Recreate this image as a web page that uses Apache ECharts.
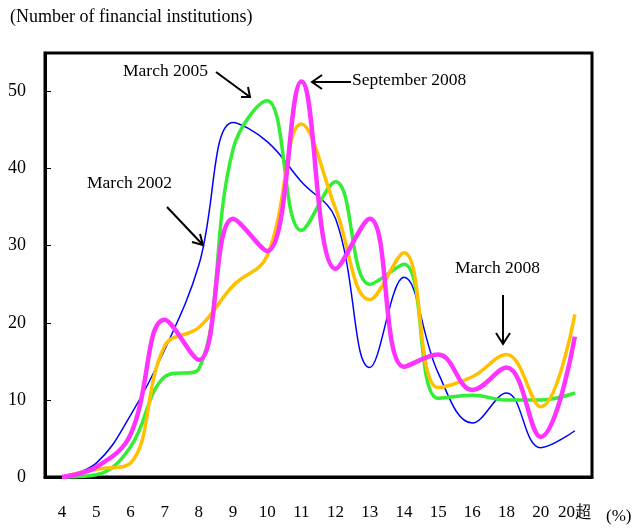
<!DOCTYPE html>
<html>
<head>
<meta charset="utf-8">
<script src="https://cdn.jsdelivr.net/npm/echarts@6/dist/echarts.min.js"></script>
<style>
html, body { margin: 0; padding: 0; background: #fff; }
#chartmain { width: 637px; height: 529px; }
</style>
</head>
<body>
<div id="chartmain"></div>
<script>
var cats = ['4', '5', '6', '7', '8', '9', '10', '11', '12', '13', '14', '15', '16', '18', '20', '20超'];
var yTicks = [0, 10, 20, 30, 40, 50];

var mar2002 = [0, 1.8, 8.0, 16.5, 27.5, 46, 43.5, 38.3, 33.5, 14.2, 25.9, 13.5, 7.0, 10.9, 3.8, 6.0];
var mar2005 = [0, 0.3, 3.9, 13.0, 14.0, 42.5, 48.8, 32.0, 38.3, 25.0, 27.6, 10.2, 10.6, 10.0, 10.0, 10.9];
var mar2008 = [0, 1.0, 1.8, 17.0, 19.4, 24.8, 28.7, 45.8, 34.8, 23.0, 29.1, 11.6, 13.0, 15.9, 9.1, 21.1];
var sep2008 = [0, 1.3, 5.5, 20.4, 15.2, 33.5, 29.3, 51.3, 27.0, 33.5, 14.3, 15.9, 11.3, 14.2, 5.2, 18.2];

var serif = '"Liberation Serif", "Times New Roman", serif';

function arrow(x1, y1, x2, y2, a1, a2) {
	return [
		{ type: 'line', shape: { x1: x1, y1: y1, x2: x2, y2: y2 }, style: { stroke: '#000', lineWidth: 2 } },
		{ type: 'polyline', shape: { points: [a1, [x2, y2], a2] }, style: { stroke: '#000', lineWidth: 2, fill: null } }
	];
}

var graphics = [
	{ type: 'text', left: 10, top: 8, style: { text: '(Number of financial institutions)', font: '18px ' + serif, fill: '#000' } },
	{ type: 'text', left: 606, top: 508, style: { text: '(%)', font: '17px ' + serif, fill: '#000' } },
	{ type: 'text', left: 123, top: 62, style: { text: 'March 2005', font: '17.5px ' + serif, fill: '#000' } },
	{ type: 'text', left: 352, top: 71, style: { text: 'September 2008', font: '17.5px ' + serif, fill: '#000' } },
	{ type: 'text', left: 87, top: 174, style: { text: 'March 2002', font: '17.5px ' + serif, fill: '#000' } },
	{ type: 'text', left: 455, top: 259, style: { text: 'March 2008', font: '17.5px ' + serif, fill: '#000' } }
]
	.concat(arrow(216, 72, 250, 97, [241, 97], [248, 87]))
	.concat(arrow(351, 82, 312, 82, [322, 75], [322, 89]))
	.concat(arrow(167, 207, 203, 245, [192, 242], [200, 234]))
	.concat(arrow(503, 295, 503, 344, [496, 333], [510, 333]));

function line(name, data, color, width) {
	return {
		name: name,
		type: 'line',
		smooth: 0.4,
		symbol: 'none',
		data: data,
		lineStyle: { color: color, width: width },
		itemStyle: { color: color }
	};
}

var option = {
	animation: false,
	backgroundColor: '#fff',
	grid: {
		left: 45, right: 45, top: 53, bottom: 52,
		show: true, borderColor: '#000', borderWidth: 3
	},
	xAxis: {
		type: 'category',
		data: cats,
		boundaryGap: true,
		axisLine: { lineStyle: { color: '#000', width: 3 } },
		axisTick: { inside: true, length: 6, lineStyle: { color: '#000', width: 1 } },
		axisLabel: { color: '#000', fontFamily: serif, fontSize: 17, margin: 27, interval: 0 },
		splitLine: { show: false }
	},
	yAxis: {
		type: 'value',
		min: 0,
		max: 55,
		interval: 10,
		axisLine: { show: true, lineStyle: { color: '#000', width: 3 } },
		axisTick: { show: true, inside: true, length: 6, lineStyle: { color: '#000', width: 1 } },
		axisLabel: {
			color: '#000', fontFamily: serif, fontSize: 18, margin: 19,
			formatter: function(v) { return yTicks.indexOf(v) >= 0 ? String(v) : ''; }
		},
		splitLine: { show: false }
	},
	series: [
		line('March 2002', mar2002, '#0000ff', 1.5),
		line('March 2005', mar2005, '#33ee33', 3.5),
		line('March 2008', mar2008, '#ffc000', 3.5),
		line('September 2008', sep2008, '#ff33ff', 4.5)
	],
	graphic: graphics
};

var myChart = echarts.init(document.getElementById('chartmain'));
myChart.setOption(option);
</script>
</body>
</html>
